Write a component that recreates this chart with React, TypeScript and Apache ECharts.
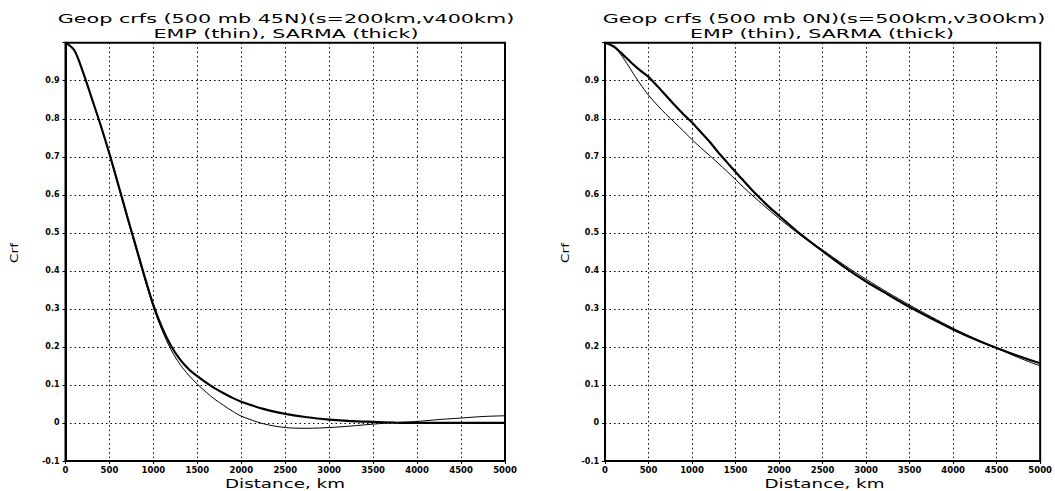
import React, { useEffect, useRef } from "react";
import * as echarts from "echarts";

const distances = [0, 100, 200, 300, 400, 500, 600, 700, 800, 900, 1000, 1100, 1200, 1300, 1400, 1500, 1600, 1700, 1800, 1900, 2000, 2250, 2500, 2750, 3000, 3250, 3500, 3750, 4000, 4250, 4500, 4750, 5000];

const sarma45N = [1.0, 0.98, 0.922, 0.853, 0.783, 0.708, 0.627, 0.545, 0.465, 0.385, 0.31, 0.25, 0.203, 0.168, 0.142, 0.123, 0.106, 0.091, 0.078, 0.066, 0.056, 0.037, 0.024, 0.015, 0.009, 0.005, 0.003, 0.001, 0, 0, 0, 0, 0];
const emp45N = [1.0, 0.98, 0.922, 0.853, 0.782, 0.706, 0.624, 0.541, 0.46, 0.38, 0.305, 0.243, 0.193, 0.155, 0.126, 0.102, 0.081, 0.062, 0.046, 0.031, 0.018, -0.002, -0.012, -0.014, -0.012, -0.008, -0.003, 0.001, 0.004, 0.009, 0.013, 0.017, 0.019];

const sarma0N = [1.0, 0.99, 0.97, 0.948, 0.928, 0.91, 0.886, 0.861, 0.836, 0.812, 0.79, 0.765, 0.74, 0.712, 0.686, 0.66, 0.635, 0.61, 0.587, 0.565, 0.545, 0.496, 0.452, 0.41, 0.372, 0.338, 0.305, 0.275, 0.246, 0.22, 0.197, 0.176, 0.157];
const emp0N = [1.0, 0.99, 0.963, 0.928, 0.893, 0.862, 0.836, 0.812, 0.79, 0.768, 0.745, 0.724, 0.704, 0.683, 0.662, 0.64, 0.618, 0.597, 0.577, 0.557, 0.538, 0.493, 0.455, 0.415, 0.378, 0.343, 0.31, 0.279, 0.249, 0.222, 0.197, 0.172, 0.15];

const titleLeft = "Geop crfs (500 mb 45N)(s=200km,v400km)";
const titleRight = "Geop crfs (500 mb 0N)(s=500km,v300km)";
const subtitle = "EMP (thin), SARMA (thick)";
const xName = "Distance, km";
const yName = "Crf";

const FONT_FAMILY = "DejaVu Sans";

function measure(text: string, size: number): number {
  const c = document.createElement("canvas");
  const ctx = c.getContext("2d");
  if (!ctx) return text.length * size * 0.6;
  ctx.font = `${size}px "${FONT_FAMILY}"`;
  return ctx.measureText(text).width;
}

function stretchedText(text: string, x: number, y: number, size: number, target: number, rotation = 0) {
  const w = measure(text, size);
  return {
    type: "text",
    x,
    y,
    rotation,
    scaleX: target / w,
    scaleY: 1,
    style: {
      text,
      fill: "#000",
      font: `${size}px "${FONT_FAMILY}"`,
      textAlign: "center",
      textVerticalAlign: "middle",
    },
  };
}

function pairs(xs: number[], ys: number[]) {
  return xs.map((x, i) => [x, ys[i]]);
}

export default function App() {
  const ref = useRef<HTMLDivElement>(null);
  useEffect(() => {
    if (!ref.current) return;
    const chart = echarts.init(ref.current, null, { renderer: "svg" });
    const top = 42.7;
    const height = 418.3;
    const grids = [
      { left: 65.5, top, width: 439.5, height, show: true, borderColor: "#000", borderWidth: 2, backgroundColor: "transparent" },
      { left: 605, top, width: 439, height, show: true, borderColor: "#000", borderWidth: 2, backgroundColor: "transparent" },
    ];
    const xAxisBase = (gi: number) => ({
      type: "value",
      gridIndex: gi,
      min: 0,
      max: 5000,
      interval: 500,
      axisLine: { show: true, onZero: false, lineStyle: { color: "#000", width: 2 } },
      axisTick: { show: true, inside: false, length: 3, lineStyle: { color: "#000" } },
      axisLabel: {
        show: true,
        margin: 4,
        color: "#000",
        fontFamily: FONT_FAMILY,
        fontWeight: "bold",
        fontSize: 8.5,
        formatter: (v: number) => String(Math.round(v)),
      },
      splitLine: { show: true, lineStyle: { color: "#000", width: 1, type: [1.5, 3] } },
    });
    const yAxisBase = (gi: number) => ({
      type: "value",
      gridIndex: gi,
      min: -0.1,
      max: 1.0,
      interval: 0.1,
      axisLine: { show: true, onZero: false, lineStyle: { color: "#000", width: 2 } },
      axisTick: { show: true, inside: false, length: 3, lineStyle: { color: "#000" } },
      axisLabel: {
        show: true,
        margin: 6,
        color: "#000",
        fontFamily: FONT_FAMILY,
        fontWeight: "bold",
        fontSize: 8,
        formatter: (v: number) => {
          if (Math.abs(v - 1) < 1e-6) return "";
          if (Math.abs(v) < 1e-6) return "0";
          return v.toFixed(1);
        },
      },
      splitLine: { show: true, lineStyle: { color: "#000", width: 1, type: [1.5, 3] } },
    });
    const lineSeries = (data: number[][], gi: number, width: number) => ({
      type: "line",
      xAxisIndex: gi,
      yAxisIndex: gi,
      data,
      showSymbol: false,
      smooth: 0.3,
      lineStyle: { color: "#000", width },
      z: 5,
    });
    chart.setOption({
      animation: false,
      backgroundColor: "#fff",
      grid: grids,
      xAxis: [xAxisBase(0), xAxisBase(1)],
      yAxis: [yAxisBase(0), yAxisBase(1)],
      series: [
        lineSeries(pairs(distances, emp45N), 0, 1),
        lineSeries(pairs(distances, sarma45N), 0, 2.2),
        lineSeries(pairs(distances, emp0N), 1, 1),
        lineSeries(pairs(distances, sarma0N), 1, 2.2),
      ],
      graphic: [
        stretchedText(titleLeft, 286, 18.5, 13, 457),
        stretchedText(subtitle, 286, 33, 13, 265),
        stretchedText(titleRight, 824, 18.5, 13, 443),
        stretchedText(subtitle, 822, 33, 13, 264),
        stretchedText(xName, 285, 483, 13, 120),
        stretchedText(xName, 824.5, 483, 13, 120),
        stretchedText(yName, 14, 253, 11, 20, Math.PI / 2),
        stretchedText(yName, 565, 253, 11, 20, Math.PI / 2),
      ],
    });
    return () => chart.dispose();
  }, []);
  return (
    <div
      ref={ref}
      style={{ position: "fixed", left: 0, top: 0, width: 1055, height: 491, background: "#fff" }}
    />
  );
}
